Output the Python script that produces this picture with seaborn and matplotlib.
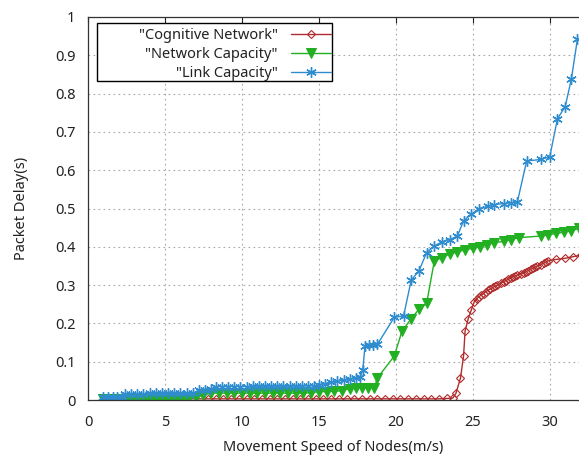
import matplotlib
matplotlib.use("Agg")
import matplotlib.pyplot as plt
import seaborn as sns
from matplotlib.patches import Rectangle

# Cognitive Network (red, open diamonds)
cog_x = [2.3, 2.8, 3.3, 3.8, 4.3, 4.8, 5.3, 5.8, 6.3, 6.8, 7.3, 7.8, 8.3, 8.8, 9.3, 9.8,
         10.3, 10.8, 11.3, 11.8, 12.3, 12.8, 13.3, 13.8, 14.3, 14.8, 15.3, 15.8, 16.3, 16.8,
         17.3, 17.8, 18.3, 18.8, 19.3, 19.8, 20.3, 20.8, 21.3, 21.8, 22.3, 22.8, 23.3, 23.7,
         23.9, 24.2, 24.4, 24.5, 24.7, 24.9, 25.1, 25.25, 25.4, 25.55, 25.7, 25.85, 26.0,
         26.15, 26.3, 26.45, 26.6, 26.8, 27.0, 27.15, 27.3, 27.45, 27.6, 27.75, 27.9, 28.1,
         28.3, 28.45, 28.6, 28.75, 28.9, 29.05, 29.2, 29.4, 29.6, 29.75, 29.9, 30.4, 31.0,
         31.5, 32.0]
cog_y = [0.003, 0.003, 0.003, 0.003, 0.003, 0.003, 0.003, 0.003, 0.003, 0.003, 0.003, 0.003,
         0.003, 0.003, 0.003, 0.003, 0.003, 0.003, 0.003, 0.003, 0.003, 0.003, 0.003, 0.003,
         0.003, 0.003, 0.003, 0.003, 0.003, 0.003, 0.003, 0.003, 0.003, 0.003, 0.003, 0.003,
         0.003, 0.003, 0.003, 0.003, 0.003, 0.003, 0.004, 0.005,
         0.017, 0.057, 0.115, 0.180, 0.212, 0.235, 0.257, 0.264, 0.270, 0.274, 0.278, 0.283,
         0.287, 0.290, 0.294, 0.297, 0.300, 0.305, 0.309, 0.312, 0.315, 0.318, 0.322, 0.324,
         0.326, 0.329, 0.332, 0.335, 0.338, 0.341, 0.344, 0.347, 0.350, 0.353, 0.357, 0.360,
         0.364, 0.367, 0.370, 0.374, 0.378]

# Network Capacity (green, filled down triangles)
net_x = [1.0, 1.5, 2.0, 2.5, 3.0, 3.5, 4.0, 4.5, 5.0, 5.5, 6.0, 6.5, 7.0, 7.5, 8.0, 8.5,
         9.0, 9.5, 10.0, 10.5, 11.0, 11.5, 12.0, 12.5, 13.0, 13.5, 14.0, 14.5, 15.0, 15.5,
         16.0, 16.5, 17.0, 17.4, 17.8, 18.2, 18.6, 18.8, 19.9, 20.4, 21.0, 21.5, 22.0, 22.5,
         23.0, 23.5, 24.0, 24.5, 25.0, 25.5, 25.9, 26.4, 27.0, 27.5, 28.0, 29.4, 29.9, 30.4,
         30.9, 31.4, 31.9]
net_y = [0.002, 0.002, 0.002, 0.002, 0.002, 0.002, 0.002, 0.002, 0.002, 0.002, 0.002, 0.003,
         0.008, 0.013, 0.018, 0.018, 0.018, 0.018, 0.018, 0.018, 0.018, 0.018, 0.018, 0.018,
         0.018, 0.018, 0.018, 0.019, 0.022, 0.022, 0.023, 0.024, 0.030, 0.031, 0.031, 0.031,
         0.032, 0.057, 0.115, 0.180, 0.212, 0.237, 0.252, 0.363, 0.372, 0.381, 0.387, 0.392,
         0.396, 0.400, 0.405, 0.411, 0.414, 0.419, 0.424, 0.428, 0.431, 0.435, 0.438, 0.442,
         0.448]

# Link Capacity (blue, asterisks)
link_x = [1.0, 1.3, 1.6, 1.9, 2.2, 2.4, 2.8, 3.2, 3.6, 4.0, 4.4, 4.8, 5.2, 5.6, 6.0, 6.4,
          6.8, 7.2, 7.6, 8.0, 8.3, 8.7, 9.1, 9.5, 9.9, 10.3, 10.7, 11.1, 11.5, 11.9, 12.3,
          12.7, 13.1, 13.5, 13.9, 14.3, 14.7, 15.0, 15.4, 15.8, 16.2, 16.6, 17.0, 17.4, 17.7,
          17.85, 18.0, 18.25, 18.5, 18.8, 19.9, 20.5, 21.0, 21.5, 22.0, 22.5, 23.0, 23.5,
          24.0, 24.4, 24.9, 25.4, 26.0, 26.4, 27.0, 27.5, 27.9, 28.5, 29.4, 30.0, 30.5, 31.0,
          31.4, 31.8]
link_y = [0.007, 0.007, 0.007, 0.008, 0.008, 0.016, 0.016, 0.016, 0.016, 0.017, 0.017, 0.017,
          0.017, 0.017, 0.017, 0.017, 0.017, 0.026, 0.027, 0.028, 0.035, 0.035, 0.035, 0.035,
          0.035, 0.035, 0.036, 0.036, 0.036, 0.036, 0.036, 0.036, 0.036, 0.036, 0.036, 0.037,
          0.037, 0.040, 0.043, 0.046, 0.049, 0.052, 0.055, 0.058, 0.061, 0.078, 0.142, 0.143,
          0.143, 0.145, 0.216, 0.219, 0.313, 0.337, 0.385, 0.402, 0.413, 0.419, 0.428, 0.468,
          0.485, 0.500, 0.506, 0.510, 0.513, 0.515, 0.518, 0.624, 0.628, 0.635, 0.734, 0.766,
          0.837, 0.943]

x_ticks = [0, 5, 10, 15, 20, 25, 30]
y_ticks = [0, 0.1, 0.2, 0.3, 0.4, 0.5, 0.6, 0.7, 0.8, 0.9, 1]
y_labels = ["0", "0.1", "0.2", "0.3", "0.4", "0.5", "0.6", "0.7", "0.8", "0.9", "1"]

sns.set_style("white")
plt.rcParams["font.family"] = ["Noto Sans", "DejaVu Sans"]

fig = plt.figure(figsize=(5.79, 4.57), dpi=100)
ax = fig.add_axes([88 / 579, 57 / 457, 1 - 88 / 579, 383 / 457])

red = "#b02c2c"
green = "#22b022"
blue = "#2e8ccf"

sns.lineplot(x=cog_x, y=cog_y, ax=ax, color=red, lw=1.0, marker="D", markersize=4,
             markerfacecolor="none", markeredgecolor=red, markeredgewidth=0.8,
             estimator=None, label='"Cognitive Network"')
sns.lineplot(x=net_x, y=net_y, ax=ax, color=green, lw=1.0, marker="v", markersize=6.5,
             markerfacecolor=green, markeredgecolor=green,
             estimator=None, label='"Network Capacity"')
sns.lineplot(x=link_x, y=link_y, ax=ax, color=blue, lw=1.0, marker=(6, 2, 0), markersize=7.5,
             markeredgecolor=blue, markeredgewidth=1.0,
             estimator=None, label='"Link Capacity"')

ax.set_xlim(0, 31.9)
ax.set_ylim(0, 1)
ax.set_xticks(x_ticks)
ax.set_yticks(y_ticks)
ax.set_yticklabels(y_labels)
ax.grid(True, color="#a8a8a8", linestyle=(0, (1.5, 3)), linewidth=0.8)
ax.tick_params(direction="in", length=4, width=0.8, top=True, right=False,
               labelsize=10.5, colors="#222222")
ax.tick_params(axis="x", pad=11)
ax.tick_params(axis="y", pad=9)
for side in ["left", "bottom", "top"]:
    ax.spines[side].set_color("#333333")
    ax.spines[side].set_linewidth(0.9)
ax.spines["right"].set_visible(False)

ax.set_xlabel("Movement Speed of Nodes(m/s)", fontsize=10.5, color="#222222", labelpad=7)
ax.set_ylabel("Packet Delay(s)", fontsize=10.5, color="#222222", labelpad=19)

# gnuplot-like key: box drawn separately, text right aligned before the sample
box = Rectangle((9 / 491, 319 / 383), 235 / 491, 58 / 383, transform=ax.transAxes,
                facecolor="white", edgecolor="black", linewidth=1.0, zorder=5)
ax.add_patch(box)
leg = ax.legend(loc="upper right", bbox_to_anchor=(243 / 491, 1 - 11 / 383), markerfirst=False,
                fontsize=10.5, frameon=False, borderaxespad=0, handlelength=2.75,
                labelspacing=0.27, borderpad=0.0, handletextpad=0.9, numpoints=1)
leg.set_zorder(6)
for t in leg.get_texts():
    t.set_color("#222222")

fig.savefig("out.png", dpi=100)
